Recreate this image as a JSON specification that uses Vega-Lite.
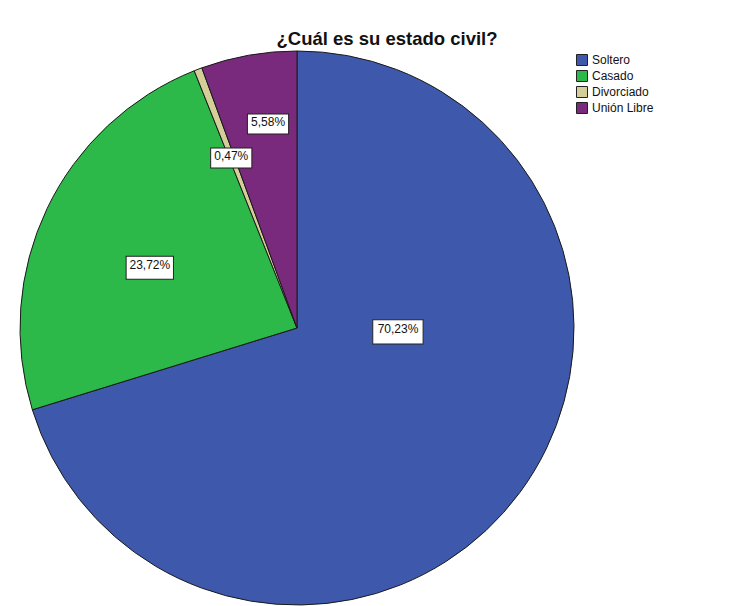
{
  "$schema": "https://vega.github.io/schema/vega-lite/v6.json",
  "autosize": {"type": "none"},
  "padding": {"left": 8, "top": 7, "right": 164, "bottom": 0},
  "width": 578,
  "height": 642,
  "background": "white",
  "title": {
    "text": "¿Cuál es su estado civil?",
    "font": "Liberation Sans",
    "fontSize": 18.5,
    "fontWeight": "bold",
    "color": "#111111",
    "anchor": "middle",
    "frame": "group",
    "dx": 90,
    "offset": -56,
    "baseline": "alphabetic"
  },
  "config": {"view": {"stroke": null}},
  "data": {
    "values": [
      {"cat": "Soltero", "pct": 70.23, "orden": 1, "label": "70,23%"},
      {"cat": "Casado", "pct": 23.72, "orden": 2, "label": "23,72%"},
      {"cat": "Divorciado", "pct": 0.47, "orden": 3, "label": "0,47%"},
      {"cat": "Unión Libre", "pct": 5.58, "orden": 4, "label": "5,58%"}
    ]
  },
  "encoding": {
    "theta": {"field": "pct", "type": "quantitative", "stack": true},
    "order": {"field": "orden", "type": "quantitative"},
    "detail": {"field": "cat", "type": "nominal"}
  },
  "layer": [
    {
      "mark": {"type": "arc", "radius": 277, "stroke": "#1a1a1a", "strokeWidth": 1},
      "encoding": {
        "color": {
          "field": "cat",
          "type": "nominal",
          "scale": {
            "domain": ["Soltero", "Casado", "Divorciado", "Unión Libre"],
            "range": ["#3e58ab", "#2db84a", "#d4cf99", "#7a2a7c"]
          },
          "legend": {
            "title": null,
            "orient": "none",
            "legendX": 568,
            "legendY": 47,
            "symbolType": "square",
            "symbolSize": 121,
            "symbolStrokeColor": "#222222",
            "symbolStrokeWidth": 1,
            "symbolOpacity": 1,
            "labelFont": "Liberation Sans",
            "labelFontSize": 12,
            "labelColor": "#111111",
            "labelOffset": 4,
            "rowPadding": 0
          }
        }
      }
    },
    {
      "mark": {"type": "text", "radius": 101, "thetaOffset": -0.621, "font": "DejaVu Sans", "fontSize": 66, "fill": "white", "stroke": "#222222", "strokeWidth": 1, "baseline": "middle"},
      "encoding": {"text": {"condition": {"test": "datum.cat === 'Soltero'", "value": "▬"}, "value": ""}}
    },
    {
      "mark": {"type": "text", "radius": 101, "thetaOffset": -0.621, "font": "Liberation Sans", "fontSize": 12, "fill": "#111111", "baseline": "middle"},
      "encoding": {"text": {"condition": {"test": "datum.cat === 'Soltero'", "field": "label"}, "value": ""}}
    },
    {
      "mark": {"type": "text", "radius": 160, "thetaOffset": -0.042, "font": "DejaVu Sans", "fontSize": 62, "fill": "white", "stroke": "#222222", "strokeWidth": 1, "baseline": "middle"},
      "encoding": {"text": {"condition": {"test": "datum.cat === 'Casado'", "value": "▬"}, "value": ""}}
    },
    {
      "mark": {"type": "text", "radius": 160, "thetaOffset": -0.042, "font": "Liberation Sans", "fontSize": 12, "fill": "#111111", "baseline": "middle"},
      "encoding": {"text": {"condition": {"test": "datum.cat === 'Casado'", "field": "label"}, "value": ""}}
    },
    {
      "mark": {"type": "text", "radius": 184, "font": "DejaVu Sans", "fontSize": 54, "fill": "white", "stroke": "#222222", "strokeWidth": 1, "baseline": "middle"},
      "encoding": {"text": {"condition": {"test": "datum.cat === 'Divorciado'", "value": "▬"}, "value": ""}}
    },
    {
      "mark": {"type": "text", "radius": 184, "font": "Liberation Sans", "fontSize": 12, "fill": "#111111", "baseline": "middle"},
      "encoding": {"text": {"condition": {"test": "datum.cat === 'Divorciado'", "field": "label"}, "value": ""}}
    },
    {
      "mark": {"type": "text", "radius": 208, "thetaOffset": 0.036, "font": "DejaVu Sans", "fontSize": 54, "fill": "white", "stroke": "#222222", "strokeWidth": 1, "baseline": "middle"},
      "encoding": {"text": {"condition": {"test": "datum.cat === 'Unión Libre'", "value": "▬"}, "value": ""}}
    },
    {
      "mark": {"type": "text", "radius": 208, "thetaOffset": 0.036, "font": "Liberation Sans", "fontSize": 12, "fill": "#111111", "baseline": "middle"},
      "encoding": {"text": {"condition": {"test": "datum.cat === 'Unión Libre'", "field": "label"}, "value": ""}}
    }
  ]
}
